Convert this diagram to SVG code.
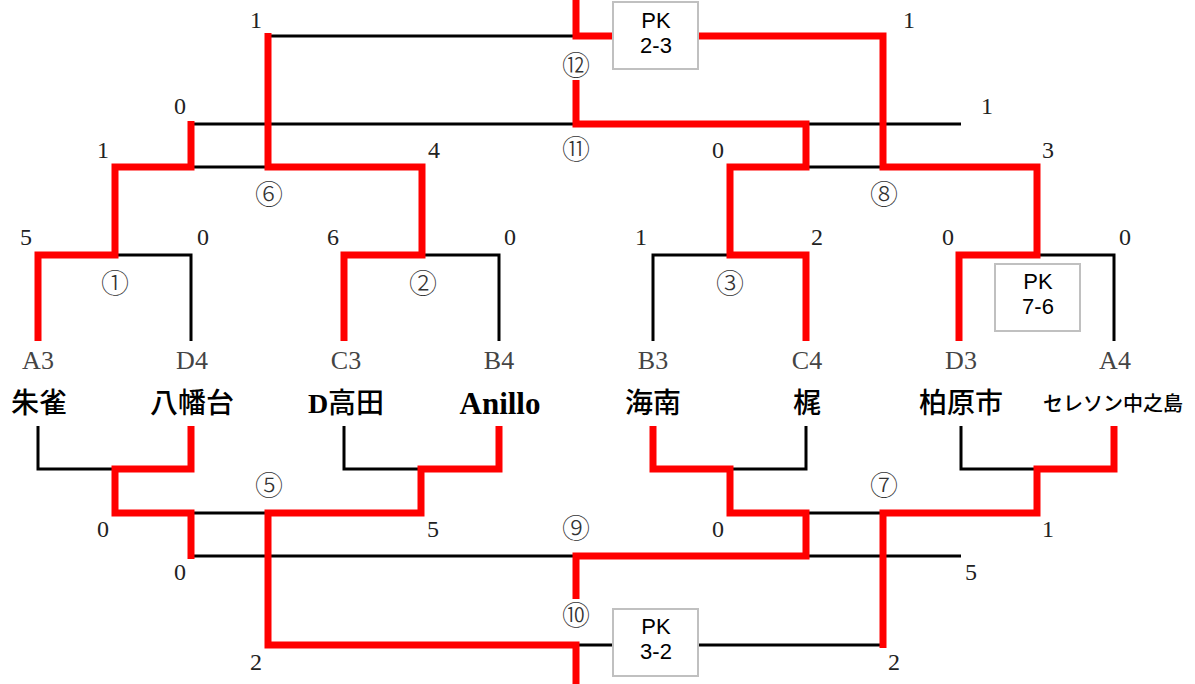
<svg xmlns="http://www.w3.org/2000/svg" width="1195" height="684" viewBox="0 0 1195 684">
<style>
.bk{fill:none;stroke:#000;stroke-width:3}
.rd{fill:none;stroke:#ff0000;stroke-width:7;stroke-linejoin:miter;stroke-linecap:butt}
.sc{font-family:"Liberation Serif","Noto Sans CJK JP",serif;font-size:24px;fill:#222;text-anchor:middle}
.cd{font-family:"Liberation Serif","Noto Sans CJK JP",serif;font-size:26px;fill:#444;text-anchor:middle}
.mn{font-family:"Noto Sans CJK JP","DejaVu Sans",sans-serif;font-size:28px;font-weight:300;fill:#333;text-anchor:middle}
.nm{font-family:"Noto Sans CJK JP",sans-serif;font-size:28px;font-weight:500;fill:#000;text-anchor:middle}
.lat{font-family:"Liberation Serif","Noto Sans CJK JP",serif;font-weight:700}
.pk{fill:#fff;stroke:#c0c0c0;stroke-width:2}
.pt{font-family:"Liberation Sans","Noto Sans CJK JP",sans-serif;font-size:22px;fill:#000;text-anchor:middle}
</style>
<rect width="1195" height="684" fill="#fff"/>
<g id="connectors">
<path class="bk" d="M38,341 V255 H191 V341 M344,341 V255 H499 V341 M653,341 V255 H806 V341 M959,341 V255 H1114 V341 M115,167 H422 M730,167 H1037 M191,124 H961 M268,36 H612 M698,36 H883"/>
<path class="bk" d="M38,426 V469 H191 V426 M344,426 V469 H499 V426 M653,426 V469 H806 V426 M961,426 V469 H1114 V426 M115,513 H421 M730,513 H1037 M191,556 H961 M268,645 H612 M698,645 H883"/>
<path class="rd" d="M38,341 V255 H115 V167 H191 V121"/>
<path class="rd" d="M344,341 V255 H422 V167 H268 V33"/>
<path class="rd" d="M806,341 V255 H730 V167 H806 V124 H576 V80"/>
<path class="rd" d="M959,341 V255 H1037 V167 H883 V36 H698"/>
<path class="rd" d="M612,36 H576 V0"/>
<path class="rd" d="M191,426 V469 H115 V513 H191 V559"/>
<path class="rd" d="M499,426 V469 H421 V513 H268 V645 H576 V684"/>
<path class="rd" d="M653,426 V469 H730 V513 H806 V556 H576 V599"/>
<path class="rd" d="M1114,426 V469 H1037 V513 H883 V648"/>
</g>
<g id="pk-boxes">
<g id="pk12"><rect class="pk" x="613" y="2" width="85" height="67"/><text class="pt" x="656" y="28">PK<tspan x="656" dy="25">2-3</tspan></text></g>
<g id="pk4"><rect class="pk" x="995" y="264" width="85" height="67"/><text class="pt" x="1038" y="289">PK<tspan x="1038" dy="25">7-6</tspan></text></g>
<g id="pk10"><rect class="pk" x="613" y="609" width="85" height="67"/><text class="pt" x="656" y="634">PK<tspan x="656" dy="25">3-2</tspan></text></g>
</g>
<g id="match-numbers">
<text class="mn" x="115" y="294">①</text>
<text class="mn" x="423" y="294">②</text>
<text class="mn" x="730" y="294">③</text>
<text class="mn" x="269" y="205">⑥</text>
<text class="mn" x="884" y="205">⑧</text>
<text class="mn" x="576" y="160">⑪</text>
<text class="mn" x="576" y="76">⑫</text>
<text class="mn" x="269" y="496">⑤</text>
<text class="mn" x="884" y="496">⑦</text>
<text class="mn" x="576" y="539">⑨</text>
<text class="mn" x="576" y="626">⑩</text>
</g>
<g id="scores">
<text class="sc" x="256" y="28">1</text>
<text class="sc" x="909" y="28">1</text>
<text class="sc" x="180" y="114">0</text>
<text class="sc" x="987" y="114">1</text>
<text class="sc" x="103" y="158">1</text>
<text class="sc" x="434" y="158">4</text>
<text class="sc" x="718" y="158">0</text>
<text class="sc" x="1048" y="158">3</text>
<text class="sc" x="26" y="245">5</text>
<text class="sc" x="203" y="245">0</text>
<text class="sc" x="333" y="245">6</text>
<text class="sc" x="510" y="245">0</text>
<text class="sc" x="641" y="245">1</text>
<text class="sc" x="817" y="245">2</text>
<text class="sc" x="948" y="245">0</text>
<text class="sc" x="1125" y="245">0</text>
<text class="sc" x="103" y="537">0</text>
<text class="sc" x="433" y="537">5</text>
<text class="sc" x="718" y="537">0</text>
<text class="sc" x="1048" y="537">1</text>
<text class="sc" x="180" y="580">0</text>
<text class="sc" x="971" y="580">5</text>
<text class="sc" x="256" y="670">2</text>
<text class="sc" x="894" y="670">2</text>
</g>
<g id="teams">
<g id="team-A3"><text class="cd" x="38" y="369">A3</text><text class="nm" x="39" y="413">朱雀</text></g>
<g id="team-D4"><text class="cd" x="192" y="369">D4</text><text class="nm" x="192" y="413">八幡台</text></g>
<g id="team-C3"><text class="cd" x="346" y="369">C3</text><text class="nm" x="346" y="413"><tspan class="lat">D</tspan>高田</text></g>
<g id="team-B4"><text class="cd" x="499" y="369">B4</text><text class="nm lat" x="500" y="414" style="font-size:31px;font-weight:600">Anillo</text></g>
<g id="team-B3"><text class="cd" x="653" y="369">B3</text><text class="nm" x="653" y="413">海南</text></g>
<g id="team-C4"><text class="cd" x="807" y="369">C4</text><text class="nm" x="807" y="413">梶</text></g>
<g id="team-D3"><text class="cd" x="961" y="369">D3</text><text class="nm" x="961" y="413">柏原市</text></g>
<g id="team-A4"><text class="cd" x="1115" y="369">A4</text><text class="nm" x="1113" y="411" style="font-size:20px">セレソン中之島</text></g>
</g>
</svg>
